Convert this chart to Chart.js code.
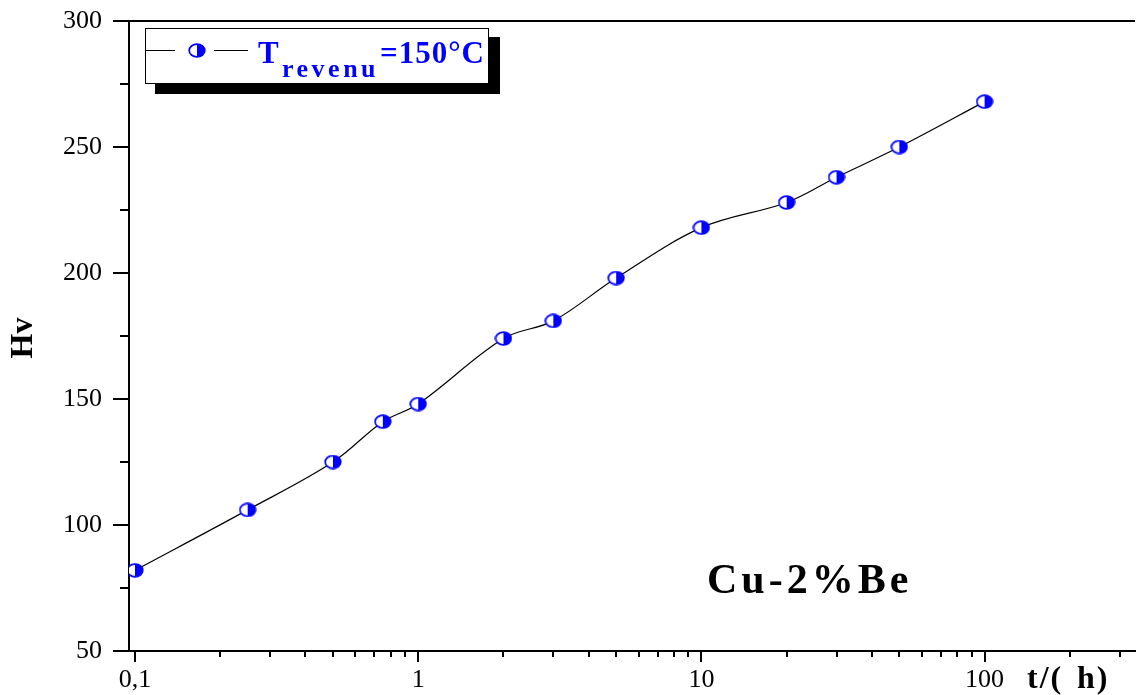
<!DOCTYPE html>
<html>
<head>
<meta charset="utf-8">
<script src="https://cdn.jsdelivr.net/npm/chart.js@4.4.0/dist/chart.umd.min.js"></script>
<style>
  html, body { margin: 0; padding: 0; background: #fff; }
  canvas { display: block; }
</style>
</head>
<body>
<canvas id="hvChart" width="1136" height="695"></canvas>
<script>
// temps de revenu (h) et dureté Vickers mesurée
const tempsH = [0.1, 0.25, 0.5, 0.75, 1, 2, 3, 5, 10, 20, 30, 50, 100];
const durete = [82, 106, 125, 141, 148, 174, 181, 198, 218, 228, 238, 250, 268];

// graduations
const xMajor = [0.1, 1, 10, 100];
const xMajorLabels = ['0,1', '1', '10', '100'];
const xMinor = [0.2, 0.3, 0.4, 0.5, 0.6, 0.7, 0.8, 0.9,
                2, 3, 4, 5, 6, 7, 8, 9,
                20, 30, 40, 50, 60, 70, 80, 90,
                200, 300];
const yMajor = [50, 100, 150, 200, 250, 300];

const BLUE = '#0000ff';
const SERIF = '"Liberation Serif", "Times New Roman", serif';

// marqueur demi-plein (gauche blanc, droite bleu)
function makeMarker() {
    const c = document.createElement('canvas');
    c.width = 18; c.height = 15;
    const g = c.getContext('2d');
    const cx = 9, cy = 7.5, rx = 7.8, ry = 6.4;
    g.beginPath();
    g.ellipse(cx, cy, rx, ry, 0, 0, Math.PI * 2);
    g.fillStyle = '#fff';
    g.fill();
    g.save();
    g.beginPath();
    g.rect(cx, 0, 18, 15);
    g.clip();
    g.beginPath();
    g.ellipse(cx, cy, rx, ry, 0, 0, Math.PI * 2);
    g.fillStyle = BLUE;
    g.fill();
    g.restore();
    g.beginPath();
    g.ellipse(cx, cy, rx, ry, 0, 0, Math.PI * 2);
    g.lineWidth = 1.7;
    g.strokeStyle = BLUE;
    g.stroke();
    return c;
}
const marker = makeMarker();

// petits et grands traits de graduation, vers l'extérieur
const tickMarks = {
    id: 'tickMarks',
    afterDraw(chart) {
        const ctx = chart.ctx;
        const xs = chart.scales.x, ys = chart.scales.y;
        const area = chart.chartArea;
        ctx.save();
        ctx.strokeStyle = '#000';
        ctx.lineWidth = 2;
        xs.ticks.forEach(t => {
            const px = Math.round(xs.getPixelForValue(t.value));
            const len = xMajor.includes(t.value) ? 11 : 6;
            ctx.beginPath();
            ctx.moveTo(px, area.bottom);
            ctx.lineTo(px, area.bottom + len);
            ctx.stroke();
        });
        ys.ticks.forEach(t => {
            const py = Math.round(ys.getPixelForValue(t.value));
            const len = yMajor.includes(t.value) ? 16 : 9;
            ctx.beginPath();
            ctx.moveTo(area.left, py);
            ctx.lineTo(area.left - len, py);
            ctx.stroke();
        });
        // cadre du haut
        ctx.beginPath();
        ctx.moveTo(area.left, area.top);
        ctx.lineTo(area.right, area.top);
        ctx.stroke();
        ctx.restore();
    }
};

// titres d'axes, légende et annotation
const annotations = {
    id: 'annotations',
    afterDraw(chart) {
        const ctx = chart.ctx;
        ctx.save();

        // Hv
        ctx.fillStyle = '#000';
        ctx.font = 'bold 32px ' + SERIF;
        ctx.textAlign = 'center';
        ctx.textBaseline = 'middle';
        ctx.translate(24, 338);
        ctx.rotate(-Math.PI / 2);
        ctx.fillText('Hv', 0, 0);
        ctx.setTransform(1, 0, 0, 1, 0, 0);

        // t/( h)
        ctx.textAlign = 'left';
        ctx.textBaseline = 'alphabetic';
        ctx.font = 'bold 32px ' + SERIF;
        ctx.letterSpacing = '2px';
        ctx.fillText('t/(', 1027, 688);
        ctx.fillText('h)', 1077, 688);

        // Cu-2%Be
        ctx.font = 'bold 42px ' + SERIF;
        ctx.letterSpacing = '4px';
        ctx.fillText('Cu-2%Be', 707, 593);
        ctx.letterSpacing = '0px';

        // légende avec ombre
        ctx.fillStyle = '#000';
        ctx.fillRect(155, 37, 345, 57);
        ctx.fillStyle = '#fff';
        ctx.fillRect(145, 28, 344, 56);
        ctx.strokeStyle = '#000';
        ctx.lineWidth = 1;
        ctx.strokeRect(145.5, 28.5, 343, 55);

        ctx.beginPath();
        ctx.moveTo(146, 50.5); ctx.lineTo(175, 50.5);
        ctx.moveTo(214, 50.5); ctx.lineTo(248, 50.5);
        ctx.stroke();
        ctx.drawImage(marker, 197 - 9, 50.5 - 7.5);

        ctx.fillStyle = BLUE;
        ctx.font = 'bold 31px ' + SERIF;
        ctx.fillText('T', 258, 63);
        ctx.font = 'bold 26px ' + SERIF;
        ctx.letterSpacing = '3.5px';
        ctx.fillText('revenu', 282, 77);
        ctx.font = 'bold 31px ' + SERIF;
        ctx.letterSpacing = '1px';
        ctx.fillText('=150°C', 380, 63);
        ctx.restore();
    }
};

const points = tempsH.map((t, i) => ({ x: t, y: durete[i] }));

new Chart(document.getElementById('hvChart'), {
    type: 'line',
    data: {
        datasets: [{
            data: points,
            borderColor: '#000',
            borderWidth: 1.2,
            tension: 0.35,
            pointStyle: marker,
            // l'image garde sa propre taille ; petit rayon pour ne pas réserver de marge
            pointRadius: 1,
            pointBorderWidth: 0,
            pointHoverRadius: 1
        }]
    },
    options: {
        responsive: false,
        animation: false,
        layout: { padding: { left: 0, top: 21, right: 0, bottom: 0 } },
        plugins: { legend: { display: false }, tooltip: { enabled: false } },
        scales: {
            x: {
                type: 'logarithmic',
                min: 0.09525,
                max: 339.6,
                afterBuildTicks: scale => {
                    scale.ticks = xMajor.concat(xMinor).sort((a, b) => a - b).map(v => ({ value: v }));
                },
                afterFit: scale => {
                    scale.height = 44;
                    scale.paddingLeft = 0;
                    scale.paddingRight = 0;
                },
                grid: { display: true, drawOnChartArea: false, drawTicks: false },
                border: { display: true, color: '#000', width: 2 },
                ticks: {
                    autoSkip: false,
                    maxRotation: 0,
                    padding: 14,
                    color: '#000',
                    font: { family: SERIF, size: 26 },
                    callback: v => {
                        const i = xMajor.indexOf(v);
                        return i >= 0 ? xMajorLabels[i] : '';
                    }
                }
            },
            y: {
                min: 50,
                max: 300,
                afterFit: scale => {
                    scale.width = 129;
                    scale.paddingTop = 0;
                    scale.paddingBottom = 0;
                },
                grid: { display: true, drawOnChartArea: false, drawTicks: false },
                border: { display: true, color: '#000', width: 2 },
                ticks: {
                    stepSize: 25,
                    padding: 27,
                    color: '#000',
                    font: { family: SERIF, size: 26 },
                    callback: v => yMajor.includes(v) ? String(v) : ''
                }
            }
        }
    },
    plugins: [tickMarks, annotations]
});
</script>
</body>
</html>
